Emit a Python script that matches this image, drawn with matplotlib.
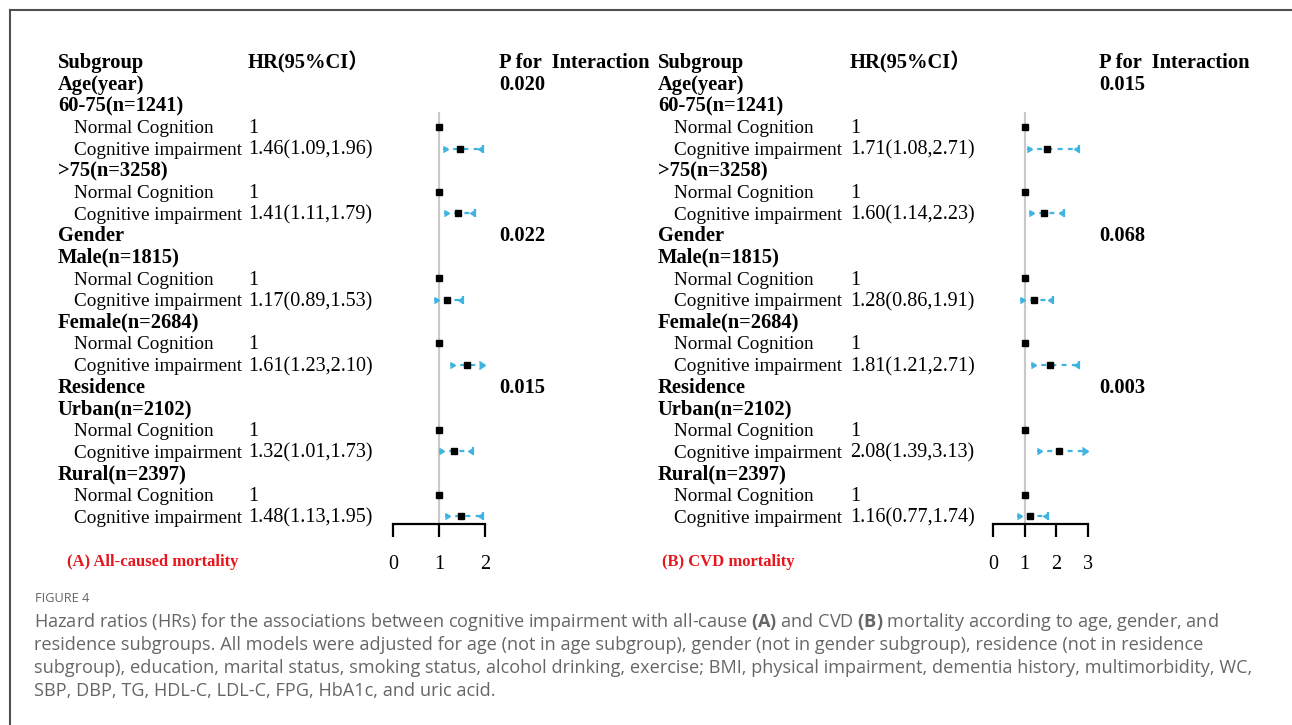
import matplotlib
matplotlib.use("Agg")
import matplotlib.pyplot as plt
import matplotlib.transforms as mtransforms
from matplotlib.lines import Line2D

# ---------------- data ----------------
categories = ["Age(year)", "Gender", "Residence"]
subgroups = ["60-75(n=1241)", ">75(n=3258)", "Male(n=1815)",
             "Female(n=2684)", "Urban(n=2102)", "Rural(n=2397)"]
ref_label = "Normal Cognition"
exp_label = "Cognitive impairment"

hr_all = [1.46, 1.41, 1.17, 1.61, 1.32, 1.48]
lo_all = [1.09, 1.11, 0.89, 1.23, 1.01, 1.13]
hi_all = [1.96, 1.79, 1.53, 2.10, 1.73, 1.95]
p_all = ["0.020", "0.022", "0.015"]
ticks_all = [0, 1, 2]

hr_cvd = [1.71, 1.60, 1.28, 1.81, 2.08, 1.16]
lo_cvd = [1.08, 1.14, 0.86, 1.21, 1.39, 0.77]
hi_cvd = [2.71, 2.23, 1.91, 2.71, 3.13, 1.74]
p_cvd = ["0.015", "0.068", "0.003"]
ticks_cvd = [0, 1, 2, 3]

panel_titles = ["(A) All-caused mortality", "(B) CVD mortality"]

caption_head = "FIGURE 4"
caption_lines = [
    r"Hazard ratios (HRs) for the associations between cognitive impairment with all-cause $\mathbf{(A)}$ and CVD $\mathbf{(B)}$ mortality according to age, gender, and",
    "residence subgroups. All models were adjusted for age (not in age subgroup), gender (not in gender subgroup), residence (not in residence",
    "subgroup), education, marital status, smoking status, alcohol drinking, exercise; BMI, physical impairment, dementia history, multimorbidity, WC,",
    "SBP, DBP, TG, HDL-C, LDL-C, FPG, HbA1c, and uric acid.",
]

# ---------------- style ----------------
plt.rcParams["mathtext.fontset"] = "custom"
plt.rcParams["mathtext.rm"] = "Open Sans"
plt.rcParams["mathtext.bf"] = "Open Sans:bold"

SERIF = ["Liberation Serif", "Noto Sans CJK SC"]
CI_COLOR = "#3fb4e2"
RED = "#e5161c"
CAP_COLOR = "#666666"
FS_REG = 13.8
FS_NUM = 14.5
FS_BOLD = 14.8

W, H = 1292, 725
fig = plt.figure(figsize=(W / 100, H / 100), dpi=100)


def fx(px):
    return px / W


def fy(py):
    return 1 - py / H


ROW0, ROWH = 62.0, 21.63


def row_of(py):
    return (py - ROW0) / ROWH


BASE = 6.3 / ROWH  # baseline offset below row centre

# row indices of each part of the table
cat_rows, sub_rows = [], []
r = 1
for c in range(len(categories)):
    cat_rows.append(r)
    r += 1
    for k in range(2):
        sub_rows.append(r)
        r += 3


def panel(hr, lo, hi, pvals, ticks, title, x0, indent, hr_col, p_col,
          zero_px, px_per_unit, ax_l, ax_r, title_x):
    ax = fig.add_axes([fx(ax_l), fy(580), (ax_r - ax_l) / W, 540 / H])
    ax.set_xlim((ax_l - zero_px) / px_per_unit, (ax_r - zero_px) / px_per_unit)
    ax.set_ylim(row_of(580), row_of(40))
    ax.patch.set_alpha(0)
    trans = mtransforms.blended_transform_factory(fig.transFigure, ax.transData)

    def put(xp, row, s, bold=False, size=None, color="black"):
        ax.text(fx(xp), row + BASE, s, transform=trans, ha="left", va="baseline",
                fontfamily=SERIF, fontweight="bold" if bold else "normal",
                fontsize=size or (FS_BOLD if bold else FS_REG), color=color,
                clip_on=False)

    # header
    put(x0, 0, "Subgroup", bold=True)
    put(hr_col, 0, "HR(95%CI）", bold=True)
    put(p_col, 0, "P for  Interaction", bold=True)

    for c, cat in enumerate(categories):
        put(x0, cat_rows[c], cat, bold=True)
        put(p_col, cat_rows[c], pvals[c], bold=True)

    xmax = ticks[-1]
    for j, sg in enumerate(subgroups):
        rs = sub_rows[j]
        put(x0, rs, sg, bold=True)
        put(indent, rs + 1, ref_label)
        put(hr_col, rs + 1, "1", size=FS_NUM)
        put(indent, rs + 2, exp_label)
        put(hr_col, rs + 2, f"{hr[j]:.2f}({lo[j]:.2f},{hi[j]:.2f})", size=FS_NUM)

        # reference group
        ax.plot([1], [rs + 1], "s", color="black", ms=4.5, clip_on=False, zorder=4)
        # confidence interval
        right = min(hi[j], xmax)
        ax.plot([lo[j], right], [rs + 2, rs + 2], color=CI_COLOR, lw=1.6,
                dashes=(2.2, 2.4), clip_on=False, zorder=2)
        ax.plot([lo[j]], [rs + 2], marker=9, color=CI_COLOR, ms=5.0,
                clip_on=False, zorder=3)
        if hi[j] > xmax:
            ax.plot([right], [rs + 2], marker=5, color=CI_COLOR, ms=6,
                    clip_on=False, zorder=3)
        else:
            ax.plot([right], [rs + 2], marker=8, color=CI_COLOR, ms=5.0,
                    clip_on=False, zorder=3)
            ax.plot([right], [rs + 2], marker="|", color=CI_COLOR, ms=6,
                    mew=1.6, clip_on=False, zorder=3)
        ax.plot([hr[j]], [rs + 2], "s", color="black", ms=4.5, clip_on=False,
                zorder=4)

    # line of no effect
    axis_row = row_of(524)
    ax.vlines(1, row_of(112), axis_row, color="#c9c9c9", lw=1.6, zorder=1)

    # x axis drawn as a bracket at the foot of the table
    for side in ("left", "right", "top"):
        ax.spines[side].set_visible(False)
    sp = ax.spines["bottom"]
    sp.set_position(("data", axis_row))
    sp.set_bounds(ticks[0], ticks[-1])
    sp.set_linewidth(1.6)
    sp.set_color("black")
    ax.set_yticks([])
    ax.set_xticks(ticks)
    ax.set_xticklabels([str(t) for t in ticks], fontfamily=SERIF, fontsize=FS_NUM)
    ax.tick_params(axis="x", direction="out", length=9.5, width=1.6,
                   colors="black", pad=13)

    # panel title
    ax.text(fx(title_x), row_of(561) + 5.5 / ROWH, title, transform=trans,
            ha="left", va="baseline", fontfamily=SERIF, fontweight="bold",
            fontsize=12, color=RED, clip_on=False)


panel(hr_all, lo_all, hi_all, p_all, ticks_all, panel_titles[0],
      x0=58, indent=74, hr_col=248, p_col=499,
      zero_px=393, px_per_unit=46.0, ax_l=380, ax_r=500, title_x=67)
panel(hr_cvd, lo_cvd, hi_cvd, p_cvd, ticks_cvd, panel_titles[1],
      x0=658, indent=674, hr_col=850, p_col=1099,
      zero_px=993, px_per_unit=95 / 3, ax_l=980, ax_r=1100, title_x=662)

# frame around the figure body
fig.add_artist(Line2D([fx(10), 1], [fy(10), fy(10)], transform=fig.transFigure,
                      color="#505050", lw=1.5))
fig.add_artist(Line2D([fx(10), fx(10)], [0, fy(10)], transform=fig.transFigure,
                      color="#505050", lw=1.5))

# caption
fig.text(fx(35), fy(599), caption_head, ha="left", va="center",
         fontfamily="Open Sans", fontsize=9.2, color=CAP_COLOR)
for i, line in enumerate(caption_lines):
    fig.text(fx(34), fy(622 + 23 * i), line, ha="left", va="center",
             fontfamily="Open Sans", fontsize=13.1, color=CAP_COLOR)

fig.savefig("out.png", dpi=100)
